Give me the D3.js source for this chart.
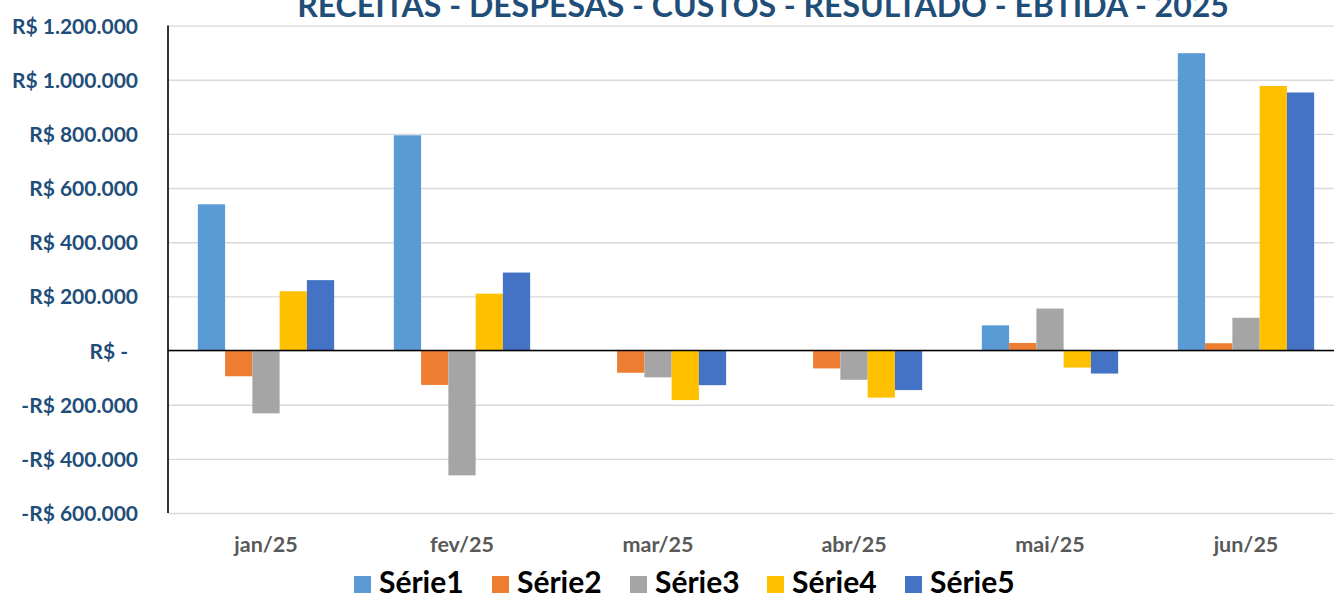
<!DOCTYPE html>
<html>
<head>
    <script src="https://d3js.org/d3.v7.min.js"></script>
    <style>
        body {
            margin: 0;
            background: #ffffff;
            font-family: 'Lato', 'Open Sans', sans-serif;
            overflow: hidden;
        }
    </style>
</head>
<body>
<div id="chart"></div>
<script>
// Data
const months = ["jan/25", "fev/25", "mar/25", "abr/25", "mai/25", "jun/25"];
const seriesNames = ["Série1", "Série2", "Série3", "Série4", "Série5"];
const serie1 = [540000, 795000, 0, 0, 93000, 1098000];
const serie2 = [-95000, -127000, -82000, -66000, 28000, 27000];
const serie3 = [-232000, -461000, -99000, -108000, 155000, 121000];
const serie4 = [219000, 210000, -183000, -174000, -63000, 977000];
const serie5 = [260000, 288000, -128000, -146000, -85000, 953000];
const yTicks = [-600000, -400000, -200000, 0, 200000, 400000, 600000, 800000, 1000000, 1200000];
const colors = ["#5B9BD5", "#ED7D31", "#A5A5A5", "#FFC000", "#4472C4"];
const title = "RECEITAS - DESPESAS - CUSTOS - RESULTADO - EBTIDA - 2025";

const allSeries = [serie1, serie2, serie3, serie4, serie5];

const width = 1334;
const height = 594;
const plot = { left: 168, right: 1344, top: 25.6, bottom: 513 };

const svg = d3.select("#chart")
    .append("svg")
    .attr("width", width)
    .attr("height", height);

// Scales
const y = d3.scaleLinear()
    .domain([-600000, 1200000])
    .range([plot.bottom, plot.top]);

const x0 = d3.scaleBand()
    .domain(months)
    .range([plot.left, plot.right]);

// excel style gap width 219%
const gap = 2.19;
const barW = x0.bandwidth() / (seriesNames.length + gap);
const x1 = d3.scaleBand()
    .domain(seriesNames)
    .range([barW * gap / 2, barW * gap / 2 + barW * seriesNames.length]);

// Grid lines + y labels
const yAxis = d3.axisLeft(y)
    .tickValues(yTicks)
    .tickSize(-(plot.right - plot.left))
    .tickFormat(d => {
        if (d === 0) return "R$ -";
        const s = d3.format(",")(Math.abs(d)).replace(/,/g, ".");
        return (d < 0 ? "-" : "") + "R$ " + s;
    });

const yG = svg.append("g")
    .attr("transform", `translate(${plot.left},0)`)
    .call(yAxis);
yG.select(".domain").remove();
yG.selectAll(".tick line")
    .attr("stroke", "#D9D9D9")
    .attr("stroke-width", 1.4);
yG.selectAll(".tick text")
    .attr("x", -30)
    .attr("dy", "0.36em")
    .attr("fill", "#1F4E79")
    .style("font-size", "21px")
    .style("font-weight", "bold")
    .style("font-family", "Lato, sans-serif");
yG.selectAll(".tick").filter(d => d === 0).select("text").attr("x", -40);

// Bars
const groups = svg.append("g")
    .selectAll("g")
    .data(months)
    .join("g")
    .attr("transform", d => `translate(${x0(d)},0)`);

groups.selectAll("rect")
    .data((m, i) => allSeries.map((s, k) => ({ name: seriesNames[k], value: s[i], k })))
    .join("rect")
    .attr("x", d => x1(d.name))
    .attr("width", x1.bandwidth())
    .attr("y", d => y(Math.max(0, d.value)))
    .attr("height", d => Math.abs(y(d.value) - y(0)))
    .attr("fill", d => colors[d.k]);

// zero line and left axis
svg.append("line")
    .attr("x1", plot.left).attr("x2", plot.right)
    .attr("y1", y(0)).attr("y2", y(0))
    .attr("stroke", "#000").attr("stroke-width", 1.6);

svg.append("line")
    .attr("x1", plot.left).attr("x2", plot.left)
    .attr("y1", plot.top).attr("y2", plot.bottom)
    .attr("stroke", "#000").attr("stroke-width", 1.6);

// X labels
const xAxis = d3.axisBottom(x0).tickSize(0);
const xG = svg.append("g")
    .attr("transform", `translate(0,${plot.bottom})`)
    .call(xAxis);
xG.select(".domain").remove();
xG.selectAll("text")
    .attr("y", 39)
    .attr("dy", 0)
    .attr("fill", "#595959")
    .style("font-size", "21.5px")
    .style("font-weight", "bold")
    .style("font-family", "Lato, sans-serif");

// Title (clipped at top like the original)
svg.append("text")
    .attr("x", 763)
    .attr("y", 17)
    .attr("text-anchor", "middle")
    .attr("fill", "#1F4E79")
    .style("font-size", "32px")
    .style("font-weight", "bold")
    .style("font-family", "Lato, sans-serif")
    .text(title);

// Legend
const legendX = [354, 492, 630, 767, 905];
const legend = svg.append("g")
    .selectAll("g")
    .data(seriesNames)
    .join("g")
    .attr("transform", (d, i) => `translate(${legendX[i]},0)`);

legend.append("rect")
    .attr("x", 0).attr("y", 576)
    .attr("width", 17).attr("height", 17)
    .attr("fill", (d, i) => colors[i]);

legend.append("text")
    .attr("x", 25).attr("y", 593)
    .attr("fill", "#000")
    .style("font-size", "30px")
    .style("font-weight", "bold")
    .style("font-family", "Lato, sans-serif")
    .text(d => d);
</script>
</body>
</html>
